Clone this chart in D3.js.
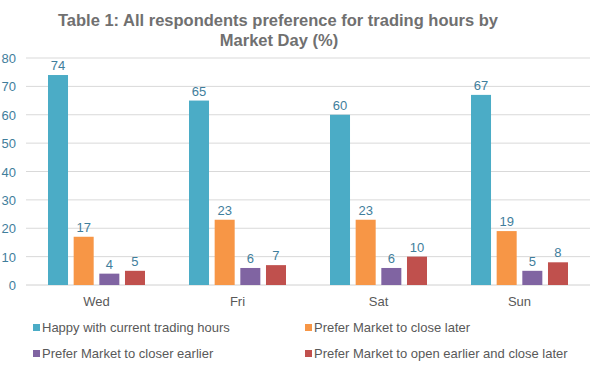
<!DOCTYPE html>
<html>
<head>
<meta charset="utf-8">
<script src="https://cdn.jsdelivr.net/npm/d3@7"></script>
<style>
	body { margin: 0; background: #fff; }
	svg { display: block; font-family: Arial, "Liberation Sans", sans-serif; }
</style>
</head>
<body>
<div class="js-graph"></div>
<script>
var days = ['Wed', 'Fri', 'Sat', 'Sun'];
var seriesNames = [
	'Happy with current trading hours',
	'Prefer Market to close later',
	'Prefer Market to closer earlier',
	'Prefer Market to open earlier and close later'
];
var happy = [74, 65, 60, 67];
var closeLater = [17, 23, 23, 19];
var closeEarlier = [4, 6, 6, 5];
var openEarlyCloseLate = [5, 7, 10, 8];
var yTicks = [0, 10, 20, 30, 40, 50, 60, 70, 80];
var colors = ['#4BACC6', '#F79646', '#8064A2', '#C0504D'];

(function(d3) {
	var w = 608, h = 370,
		graph = d3.select('.js-graph').append('svg').attr('width', w).attr('height', h);

	var series = [happy, closeLater, closeEarlier, openEarlyCloseLate];
	var rows = [];
	days.forEach(function(day, i) {
		series.forEach(function(s, k) {
			rows.push({ day: day, key: k, value: s[i] });
		});
	});

	var x = d3.scaleBand().domain(days).range([26, 590]);
	var inner = d3.scaleBand().domain([0, 1, 2, 3]).range([22, 119]).paddingInner(0.22);
	var y = d3.scaleLinear().domain([0, 80]).range([285, 58]);

	// gridlines
	graph.append('g')
		.selectAll('line')
		.data(yTicks)
		.enter()
		.append('line')
		.attr('x1', 26)
		.attr('x2', 590)
		.attr('y1', function(d) { return y(d); })
		.attr('y2', function(d) { return y(d); })
		.style('stroke', function(d) { return d === 0 ? '#d0d0d0' : '#d9d9d9'; })
		.style('stroke-width', 1);

	// y tick labels
	graph.append('g')
		.selectAll('text')
		.data(yTicks)
		.enter()
		.append('text')
		.attr('x', 16)
		.attr('y', function(d) { return y(d) + 5; })
		.attr('text-anchor', 'end')
		.attr('font-size', 13)
		.attr('fill', '#3F7E9C')
		.text(function(d) { return d; });

	// bars
	graph.append('g')
		.selectAll('rect')
		.data(rows)
		.enter()
		.append('rect')
		.attr('x', function(d) { return x(d.day) + inner(d.key); })
		.attr('y', function(d) { return y(d.value); })
		.attr('width', inner.bandwidth())
		.attr('height', function(d) { return y(0) - y(d.value); })
		.attr('fill', function(d) { return colors[d.key]; });

	// value labels
	graph.append('g')
		.selectAll('text')
		.data(rows)
		.enter()
		.append('text')
		.attr('x', function(d) { return x(d.day) + inner(d.key) + inner.bandwidth() / 2; })
		.attr('y', function(d) { return y(d.value) - 5; })
		.attr('text-anchor', 'middle')
		.attr('font-size', 13)
		.attr('fill', '#3F7E9C')
		.text(function(d) { return d.value; });

	// category labels
	graph.append('g')
		.selectAll('text')
		.data(days)
		.enter()
		.append('text')
		.attr('x', function(d) { return x(d) + x.bandwidth() / 2; })
		.attr('y', 306)
		.attr('text-anchor', 'middle')
		.attr('font-size', 13)
		.attr('fill', '#595959')
		.text(function(d) { return d; });

	// title
	graph.append('text')
		.attr('x', 278)
		.attr('y', 26)
		.attr('text-anchor', 'middle')
		.attr('font-size', 16.5)
		.attr('font-weight', 'bold')
		.attr('fill', '#707070')
		.text('Table 1: All respondents preference for trading hours by');
	graph.append('text')
		.attr('x', 279)
		.attr('y', 46)
		.attr('text-anchor', 'middle')
		.attr('font-size', 16.5)
		.attr('font-weight', 'bold')
		.attr('fill', '#707070')
		.text('Market Day (%)');

	// legend
	var legend = graph.append('g')
		.selectAll('g')
		.data(seriesNames)
		.enter()
		.append('g')
		.attr('transform', function(d, i) {
			return 'translate(' + (i % 2 ? 305 : 33) + ',' + (i < 2 ? 332 : 358) + ')';
		});
	legend.append('rect')
		.attr('x', 0)
		.attr('y', -8)
		.attr('width', 7)
		.attr('height', 7)
		.attr('fill', function(d, i) { return colors[i]; });
	legend.append('text')
		.attr('x', 9)
		.attr('y', 0)
		.attr('font-size', 13)
		.attr('fill', '#595959')
		.text(function(d) { return d; });
})(d3);
</script>
</body>
</html>
